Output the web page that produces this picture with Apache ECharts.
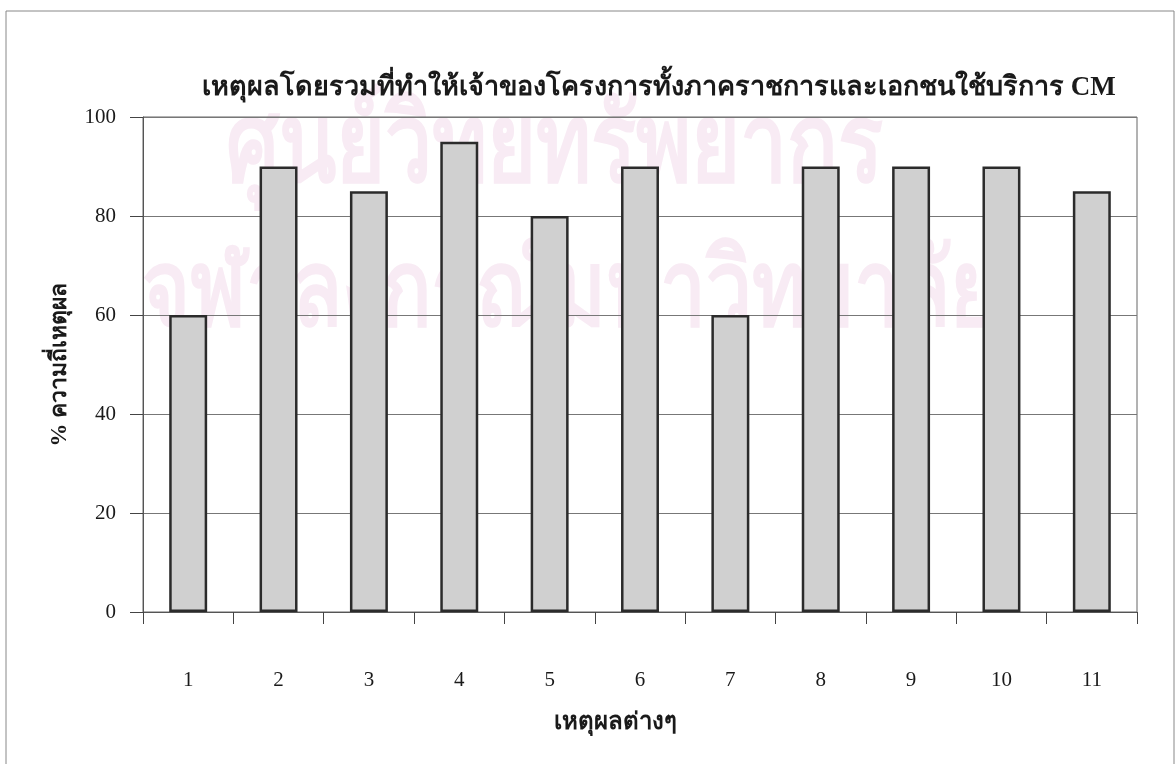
<!DOCTYPE html>
<html>
<head>
<meta charset="utf-8">
<script src="https://cdn.jsdelivr.net/npm/echarts@6/dist/echarts.min.js"></script>
<style>
  html, body { margin: 0; padding: 0; background: #ffffff; }
  #chart { width: 1176px; height: 764px; }
</style>
</head>
<body>
<div id="chart"></div>
<script>
// Reasons (1–11) and the share of respondents citing each one
const categories = ['1', '2', '3', '4', '5', '6', '7', '8', '9', '10', '11'];
const frequency = [60, 90, 85, 95, 80, 90, 60, 90, 90, 90, 85];
const yTicks = { min: 0, max: 100, interval: 20 };

const titleText = 'เหตุผลโดยรวมที่ทำให้เจ้าของโครงการทั้งภาคราชการและเอกชนใช้บริการ CM';
const xName = 'เหตุผลต่างๆ';
const yName = '% ความถี่เหตุผล';
const stampLines = ['ศูนย์วิทยทรัพยากร', 'จุฬาลงกรณ์มหาวิทยาลัย'];

const serif = '"Liberation Serif", "Times New Roman", "DejaVu Serif", serif';

const chart = echarts.init(document.getElementById('chart'), null, { renderer: 'canvas' });

chart.setOption({
  backgroundColor: '#ffffff',
  animation: false,
  title: {
    text: titleText,
    left: 197,
    top: 70,
    textStyle: { fontFamily: serif, fontSize: 27, fontWeight: 'bold', color: '#1a1a1a' }
  },
  graphic: [
    {
      type: 'rect', z: -10, silent: true,
      shape: { x: 6, y: 11, width: 1168, height: 770 },
      style: { fill: 'none', stroke: '#888', lineWidth: 1 }
    },
    {
      type: 'text', z: -5, silent: true,
      x: 226, y: 98, scaleY: 1.3,
      style: { text: stampLines[0], fontSize: 84, fontWeight: 'bold', fill: '#f8ebf4', fontFamily: serif }
    },
    {
      type: 'text', z: -5, silent: true,
      x: 142, y: 244, scaleY: 1.3,
      style: { text: stampLines[1], fontSize: 82, fontWeight: 'bold', fill: '#f8ebf4', fontFamily: serif }
    }
  ],
  grid: {
    left: 143, right: 39, top: 117, bottom: 152,
    show: true, borderColor: '#666', borderWidth: 1, backgroundColor: 'transparent'
  },
  xAxis: {
    type: 'category',
    data: categories,
    name: xName,
    nameLocation: 'middle',
    nameGap: 99,
    nameTextStyle: { fontFamily: serif, fontSize: 24, fontWeight: 'bold', color: '#1a1a1a', padding: [0, 50, 0, 0] },
    axisLine: { lineStyle: { color: '#555', width: 1 } },
    axisTick: { show: true, length: 12, lineStyle: { color: '#444' } },
    axisLabel: { margin: 58, fontFamily: serif, fontSize: 21, color: '#1a1a1a' },
    splitLine: { show: false }
  },
  yAxis: {
    type: 'value',
    min: yTicks.min, max: yTicks.max, interval: yTicks.interval,
    name: yName,
    nameLocation: 'middle',
    nameGap: 71,
    nameRotate: 90,
    nameTextStyle: { fontFamily: serif, fontSize: 23, fontWeight: 'bold', color: '#1a1a1a' },
    axisLine: { show: true, lineStyle: { color: '#555', width: 1 } },
    axisTick: { show: true, length: 13, lineStyle: { color: '#444' } },
    axisLabel: { margin: 27, fontFamily: serif, fontSize: 21, color: '#1a1a1a' },
    splitLine: { show: true, lineStyle: { color: '#777', width: 1 } }
  },
  series: [{
    type: 'bar',
    data: frequency,
    barWidth: '42%',
    itemStyle: { color: '#d0d0d0', borderColor: '#2b2b2b', borderWidth: 2.5 }
  }]
});
</script>
</body>
</html>
